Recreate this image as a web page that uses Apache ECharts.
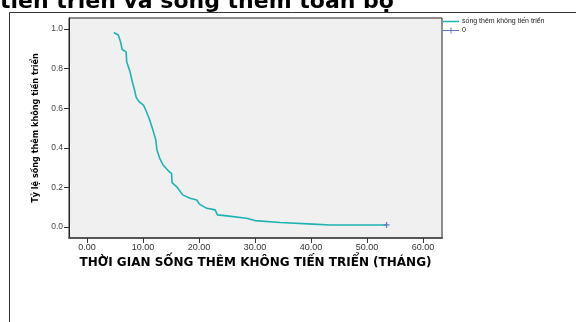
<!DOCTYPE html>
<html>
<head>
<meta charset="utf-8">
<script src="https://cdn.jsdelivr.net/npm/echarts@6/dist/echarts.min.js"></script>
<style>
  html, body { margin: 0; padding: 0; background: #fff; }
  #chart { width: 576px; height: 322px; }
</style>
</head>
<body>
<div id="chart"></div>
<script>
// Kaplan-Meier estimate: progression-free survival (months, proportion)
var pfsMonths   = [4.8, 5.6, 6.0, 6.3, 7.0, 7.1, 7.7, 8.1, 8.5, 8.8, 9.3, 10.1, 10.5, 11.1, 11.7, 11.8, 12.3, 12.5, 13.0, 13.6, 14.7, 15.1, 15.2, 16.0, 17.1, 18.4, 19.6, 20.1, 21.4, 22.9, 23.3, 25.0, 28.5, 30.0, 34.5, 40.4, 43.4, 53.5];
var pfsSurvival = [0.983, 0.970, 0.936, 0.897, 0.885, 0.835, 0.784, 0.734, 0.692, 0.655, 0.633, 0.616, 0.591, 0.549, 0.498, 0.490, 0.439, 0.389, 0.347, 0.313, 0.279, 0.271, 0.224, 0.204, 0.162, 0.145, 0.136, 0.115, 0.094, 0.086, 0.061, 0.056, 0.044, 0.032, 0.022, 0.014, 0.010, 0.010];

// censored observation
var censoredMonths   = [53.5];
var censoredSurvival = [0.010];

var xTickValues = [0, 10, 20, 30, 40, 50, 60];
var yTickValues = [0, 0.2, 0.4, 0.6, 0.8, 1.0];

var seriesNames = ['sống thêm không tiến triển', '0'];
var titleText = 'tiến triển và sống thêm toàn bộ';
var xAxisTitle = 'THỜI GIAN SỐNG THÊM KHÔNG TIẾN TRIỂN (THÁNG)';
var yAxisTitle = 'Tỷ lệ sống thêm không tiến triển';

function pairs(xs, ys) {
  return xs.map(function (x, i) { return [x, ys[i]]; });
}

var plusPath = 'path://M4,0 L6,0 L6,4 L10,4 L10,6 L6,6 L6,10 L4,10 L4,6 L0,6 L0,4 L4,4 Z';
var lineIcon = 'path://M0,0 H32 V3 H0 Z';
var linePlusIcon = 'path://M0,5 H15 V0 H17 V5 H32 V7 H17 V12 H15 V7 H0 Z';

var chart = echarts.init(document.getElementById('chart'), null, { renderer: 'canvas' });
chart.setOption({
  backgroundColor: '#ffffff',
  animation: false,
  graphic: [
    {
      type: 'polyline',
      silent: true,
      shape: { points: [[576, 12.5], [9.5, 12.5], [9.5, 322]] },
      style: { stroke: '#333', lineWidth: 1, fill: null }
    },
    {
      type: 'text',
      left: 0,
      top: -9,
      style: {
        text: titleText,
        font: 'bold 22px "DejaVu Sans"',
        fill: '#000'
      }
    }
  ],
  grid: {
    left: 69, right: 134, top: 18, bottom: 84,
    show: true,
    backgroundColor: '#f0f0f0',
    borderColor: '#222',
    borderWidth: 1
  },
  legend: {
    orient: 'vertical',
    left: 443,
    top: 18,
    itemWidth: 16,
    itemHeight: 6,
    itemGap: 2,
    padding: 0,
    textStyle: { fontSize: 7, color: '#222', fontFamily: 'Liberation Sans', padding: [0, 0, 0, -2] },
    data: [
      { name: seriesNames[0], icon: lineIcon },
      { name: seriesNames[1], icon: linePlusIcon }
    ]
  },
  xAxis: {
    type: 'value',
    min: -3.2,
    max: 63.4,
    name: xAxisTitle,
    nameLocation: 'middle',
    nameGap: 19,
    nameTextStyle: { fontSize: 12, fontWeight: 'bold', color: '#000', fontFamily: 'DejaVu Sans' },
    splitLine: { show: false },
    axisLine: { show: true, onZero: false, lineStyle: { color: '#555', width: 2 } },
    axisTick: { show: true, length: 5, lineStyle: { color: '#333' }, customValues: xTickValues },
    axisLabel: {
      customValues: xTickValues,
      margin: 5,
      fontSize: 9,
      color: '#333',
      fontFamily: 'Liberation Sans',
      formatter: function (v) { return v.toFixed(2); }
    }
  },
  yAxis: {
    type: 'value',
    min: -0.056,
    max: 1.056,
    name: yAxisTitle,
    nameLocation: 'middle',
    nameGap: 23,
    nameTextStyle: { fontSize: 9, fontWeight: 'bold', color: '#000', fontFamily: '"DejaVu Sans Condensed", "Liberation Sans"' },
    splitLine: { show: false },
    axisLine: { show: true, onZero: false, lineStyle: { color: '#222', width: 1 } },
    axisTick: { show: true, length: 5, lineStyle: { color: '#333' }, customValues: yTickValues },
    axisLabel: {
      customValues: yTickValues,
      margin: 6,
      fontSize: 8.5,
      color: '#444',
      fontFamily: 'Liberation Sans',
      formatter: function (v) { return v.toFixed(1); }
    }
  },
  series: [
    {
      name: seriesNames[0],
      type: 'line',
      data: pairs(pfsMonths, pfsSurvival),
      showSymbol: false,
      symbol: 'none',
      lineStyle: { color: '#1eb3b0', width: 1.6 },
      itemStyle: { color: '#1eb3b0' }
    },
    {
      name: seriesNames[1],
      type: 'line',
      data: pairs(censoredMonths, censoredSurvival),
      symbol: plusPath,
      symbolSize: 6,
      lineStyle: { color: '#5d74cf', width: 1 },
      itemStyle: { color: '#5d74cf' }
    }
  ]
});
</script>
</body>
</html>
